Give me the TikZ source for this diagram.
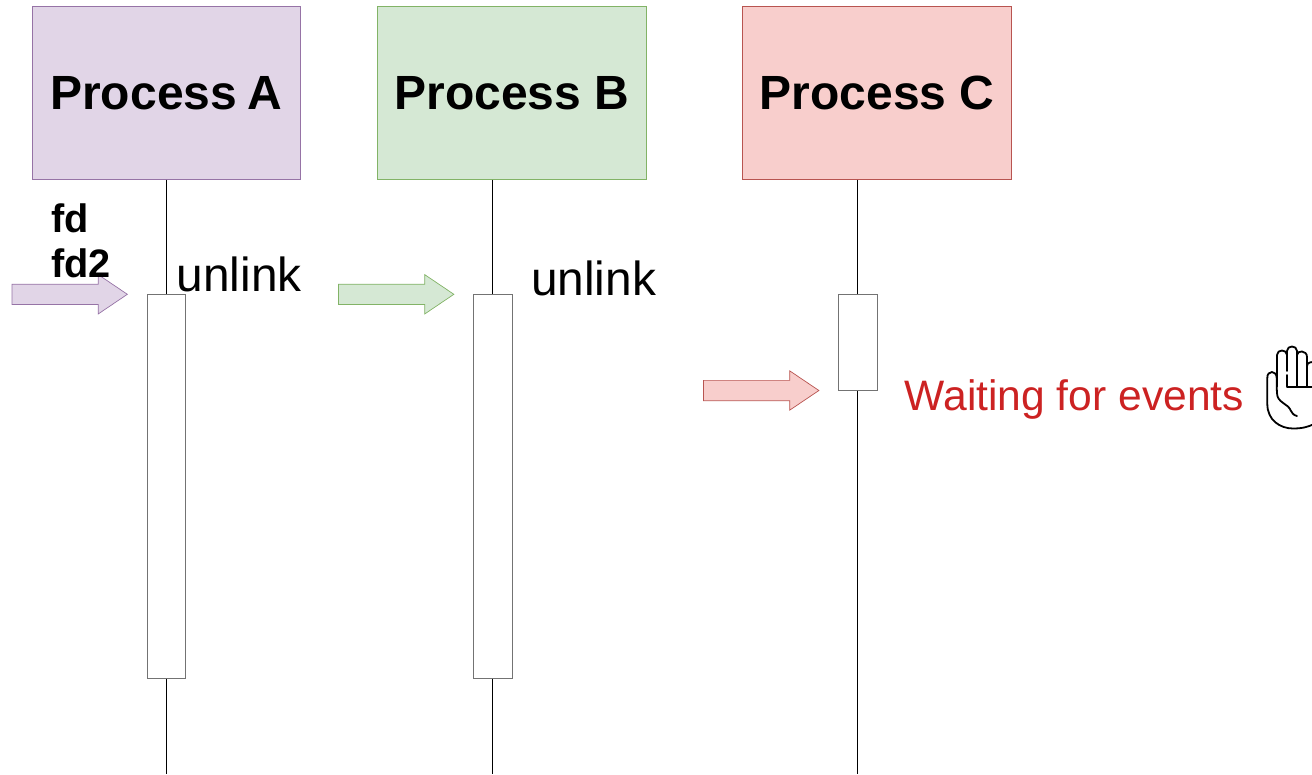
\documentclass[tikz,border=0pt]{standalone}
\usepackage{fontspec}
\setmainfont{Liberation Sans}
\usetikzlibrary{shapes.arrows}
\definecolor{purpF}{HTML}{E1D5E7}\definecolor{purpD}{HTML}{9673A6}
\definecolor{greenF}{HTML}{D5E8D4}\definecolor{greenD}{HTML}{82B366}
\definecolor{redF}{HTML}{F8CECC}\definecolor{redD}{HTML}{B85450}
\definecolor{waitC}{HTML}{CC2222}
\tikzset{
  x=1pt,y=1pt,
  header/.style={minimum width=268.8pt,minimum height=173pt,inner sep=0pt,line width=0.7pt,font=\fontsize{48}{50}\selectfont\bfseries},
  activation/.style={draw=black!55,fill=white,line width=0.8pt,minimum width=38.3pt,inner sep=0pt},
  lifeline/.style={draw=black,line width=0.8pt},
  callarrow/.style={single arrow,anchor=tip,inner sep=0pt,text height=19.6pt,text depth=0pt,minimum height=115.3pt,single arrow head extend=9.5pt,single arrow tip angle=68,single arrow head indent=0pt,line width=0.7pt},
  biglabel/.style={inner sep=0pt,font=\fontsize{47.8}{50}\selectfont},
  handline/.style={draw=black,line width=1.8pt,line cap=round,line join=round}
}
\begin{document}
\begin{tikzpicture}
\useasboundingbox (0,0) rectangle (1312,-774);
\node[header,draw=purpD,fill=purpF] (headA) at (166.4,-93) {Process\kern-2.6pt\ A};
\node[header,draw=greenD,fill=greenF] (headB) at (512,-93) {Process B};
\node[header,draw=redD,fill=redF] (headC) at (877,-93) {Process C};
\node[activation,minimum height=384.5pt] (actA) at (166.3,-486.3) {};
\node[activation,minimum height=384.5pt] (actB) at (492.8,-486.3) {};
\node[activation,minimum height=96.5pt] (actC) at (857.8,-342.5) {};
\coordinate (endY) at (0,-774);
\draw[lifeline] (actA.north |- headA.south) -- (actA.north);
\draw[lifeline] (actA.south) -- (actA.south |- endY);
\draw[lifeline] (actB.north |- headB.south) -- (actB.north);
\draw[lifeline] (actB.south) -- (actB.south |- endY);
\draw[lifeline] (actC.north |- headC.south) -- (actC.north);
\draw[lifeline] (actC.south) -- (actC.south |- endY);
\node[callarrow,draw=purpD,fill=purpF] (arrA) at (128,-294.3) {};
\node[callarrow,draw=greenD,fill=greenF] (arrB) at (454.5,-294.3) {};
\node[callarrow,draw=redD,fill=redF] (arrC) at (819.5,-390.5) {};
\node[anchor=base west,inner sep=0pt,font=\fontsize{39.7}{45}\selectfont\bfseries] (fdA) at (51,-232) {fd};
\node[anchor=base west,inner sep=0pt,font=\fontsize{39.7}{45}\selectfont\bfseries] (fdB) at (51,-277) {fd2};
\node[biglabel,anchor=base west] (unA) at (176.5,-291) {unlink};
\node[biglabel,anchor=base west] (unB) at (531,-295) {unlink};
\node[anchor=base west,inner sep=0pt,text=waitC,font=\fontsize{42.6}{45}\selectfont] (wait) at (904.5,-410) {Waiting for events};
\begin{scope}
\clip (1260,-340) rectangle (1312,-440);
\draw[handline] (1277,-393) .. controls (1276.5,-386) and (1276.7,-382) .. (1276.7,-378)
  .. controls (1276.7,-370) and (1267,-370) .. (1267.3,-378)
  -- (1267.3,-404) .. controls (1267.3,-420) and (1280,-428.5) .. (1293,-428.5)
  .. controls (1302,-428.5) and (1308,-427) .. (1314,-424);
\draw[handline] (1277,-393) .. controls (1277,-403) and (1288,-403) .. (1291,-411)
  .. controls (1293,-415) and (1296,-416) .. (1297,-416);
\draw[handline] (1277,-386.5) -- (1277,-355)
  .. controls (1277,-349) and (1287,-349) .. (1287,-355)
  -- (1287,-371);
\draw[handline] (1287,-375) -- (1287,-386.5);
\draw[handline] (1287,-355) -- (1287,-351)
  .. controls (1287,-345) and (1297,-345) .. (1297,-351)
  -- (1297,-386.5);
\draw[handline] (1297,-355) .. controls (1297,-350) and (1307,-350) .. (1307,-357)
  -- (1307,-386.5);
\draw[handline] (1307,-366) .. controls (1307,-362) and (1312,-362) .. (1314,-362);
\draw[handline] (1287,-387) -- (1314,-387);
\end{scope}
\end{tikzpicture}
\end{document}
